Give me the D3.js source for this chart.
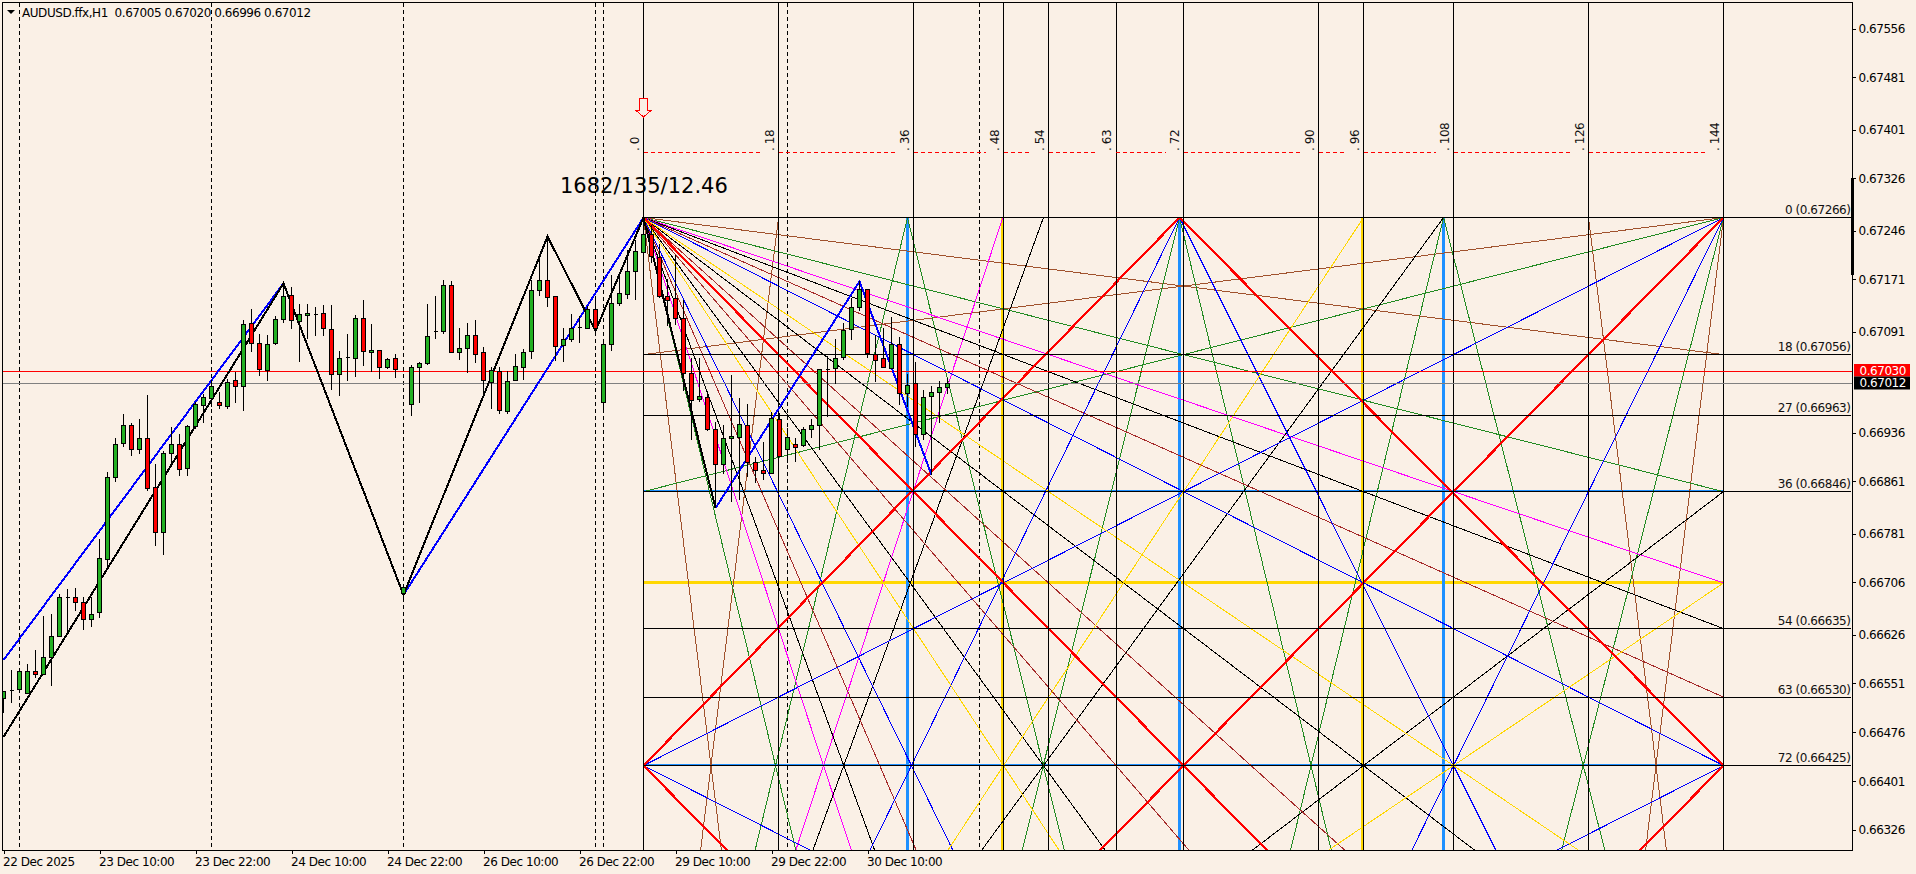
<!DOCTYPE html>
<html><head><meta charset="utf-8">
<script src="https://cdn.jsdelivr.net/npm/d3@7/dist/d3.min.js"></script>
<style>
html,body{margin:0;padding:0;background:#FAF0E6;overflow:hidden}
svg{display:block}
text{font-family:"DejaVu Sans",sans-serif;font-size:12px;letter-spacing:-0.45px;fill:#000}
</style></head><body>
<script>
const open=[0.66528,0.66541,0.66542,0.66535,0.66570,0.66565,0.66591,0.66623,0.66683,0.66683,0.66675,0.66649,0.66660,0.66741,0.66867,0.66919,0.66947,0.66910,0.66927,0.66852,0.66783,0.66904,0.66918,0.66881,0.66945,0.66978,0.66988,0.66982,0.66976,0.67016,
0.67007,0.67103,0.67073,0.67031,0.67072,0.67110,0.67146,0.67107,0.67116,0.67118,0.67119,0.67094,0.67025,0.67051,0.67050,0.67111,0.67059,0.67062,0.67036,0.67050,
0.66689,0.66979,0.67036,0.67042,0.67091,0.67091,0.67162,0.67059,0.67065,0.67085,0.67059,0.67013,0.67030,0.66969,0.67016,0.67036,0.67061,0.67154,0.67170,0.67145,
0.67069,0.67079,0.67097,0.67096,0.67125,0.66982,0.67071,0.67134,0.67148,0.67184,0.67213,0.67240,0.67205,0.67145,0.67142,0.67111,0.67026,0.66987,0.66990,0.66941,
0.66887,0.66927,0.66929,0.66947,0.66890,0.66878,0.66873,0.66956,0.66910,0.66918,0.66916,0.66941,0.66947,0.67033,0.67035,0.67052,0.67094,0.67128,0.67156,0.67056,
0.67050,0.67035,0.67071,0.66996,0.67012,0.66933,0.66991,0.66998,0.67005];
const high=[0.66539,0.66571,0.66571,0.66581,0.66602,0.66654,0.66657,0.66689,0.66696,0.66697,0.66683,0.66684,0.66773,0.66875,0.66927,0.66965,0.66950,0.66957,0.66994,0.66888,0.66908,0.66945,0.66934,0.66947,0.66983,0.66996,0.67016,0.66998,0.67019,0.67029,
0.67109,0.67126,0.67088,0.67086,0.67115,0.67165,0.67159,0.67133,0.67133,0.67128,0.67132,0.67132,0.67062,0.67087,0.67117,0.67140,0.67102,0.67062,0.67051,0.67056,
0.66700,0.67040,0.67044,0.67133,0.67146,0.67170,0.67169,0.67096,0.67104,0.67109,0.67067,0.67036,0.67036,0.67030,0.67057,0.67064,0.67170,0.67209,0.67237,0.67145,
0.67097,0.67118,0.67115,0.67130,0.67146,0.67077,0.67178,0.67176,0.67216,0.67231,0.67265,0.67255,0.67226,0.67171,0.67209,0.67140,0.67050,0.67050,0.66996,0.66953,
0.66948,0.67024,0.66989,0.66980,0.66899,0.66922,0.66968,0.66966,0.66943,0.66927,0.66945,0.66957,0.67033,0.67053,0.67079,0.67104,0.67142,0.67168,0.67157,0.67086,
0.67096,0.67113,0.67082,0.67026,0.67044,0.67002,0.67008,0.67015,0.67020];
const low=[0.66506,0.66521,0.66541,0.66535,0.66560,0.66565,0.66547,0.66623,0.66630,0.66662,0.66633,0.66638,0.66652,0.66730,0.66860,0.66914,0.66900,0.66903,0.66847,0.66762,0.66748,0.66887,0.66869,0.66869,0.66942,0.66951,0.66976,0.66972,0.66972,0.66981,
0.66969,0.67060,0.67023,0.67015,0.67070,0.67104,0.67095,0.67045,0.67080,0.67084,0.67085,0.67001,0.66992,0.67015,0.67022,0.67038,0.67029,0.67019,0.67033,0.67020,
0.66687,0.66962,0.66982,0.67040,0.67079,0.67087,0.67059,0.67047,0.67028,0.67043,0.66991,0.66972,0.66964,0.66964,0.67016,0.67016,0.67049,0.67145,0.67128,0.67046,
0.67045,0.67075,0.67074,0.67096,0.67092,0.66967,0.67061,0.67130,0.67141,0.67140,0.67206,0.67196,0.67142,0.67099,0.67101,0.67000,0.66924,0.66983,0.66939,0.66820,
0.66873,0.66830,0.66832,0.66868,0.66858,0.66863,0.66873,0.66900,0.66889,0.66891,0.66914,0.66927,0.66910,0.66960,0.67010,0.67047,0.67078,0.67122,0.67051,0.67014,
0.67035,0.67035,0.66979,0.66976,0.66914,0.66925,0.66871,0.66950,0.66996];
const close=[0.66539,0.66541,0.66570,0.66570,0.66565,0.66591,0.66623,0.66683,0.66683,0.66675,0.66649,0.66657,0.66743,0.66867,0.66918,0.66947,0.66910,0.66927,0.66850,0.66783,0.66904,0.66918,0.66879,0.66945,0.66979,0.66990,0.67007,0.66977,0.67013,0.67007,
0.67102,0.67073,0.67033,0.67071,0.67110,0.67145,0.67108,0.67117,0.67119,0.67118,0.67096,0.67025,0.67049,0.67051,0.67111,0.67060,0.67062,0.67036,0.67048,0.67033,
0.66698,0.67036,0.67042,0.67084,0.67091,0.67162,0.67059,0.67065,0.67085,0.67056,0.67016,0.67032,0.66970,0.67015,0.67038,0.67059,0.67154,0.67170,0.67144,0.67068,
0.67079,0.67096,0.67097,0.67125,0.67096,0.67071,0.67134,0.67150,0.67184,0.67214,0.67240,0.67206,0.67145,0.67139,0.67111,0.67026,0.66986,0.66991,0.66941,0.66887,
0.66927,0.66930,0.66949,0.66890,0.66878,0.66873,0.66958,0.66900,0.66929,0.66913,0.66941,0.66947,0.67033,0.67033,0.67050,0.67093,0.67128,0.67156,0.67058,0.67047,
0.67036,0.67071,0.66996,0.67009,0.66933,0.66990,0.66998,0.67005,0.67012];

const priceTicks=[0.67556,0.67481,0.67401,0.67326,0.67246,0.67171,0.67091,0.66936,0.66861,0.66781,0.66706,0.66626,0.66551,0.66476,0.66401,0.66326];
const dateBars=[0,12,24,36,48,60,72,84,96,108];
const dateLabels=["22 Dec 2025","23 Dec 10:00","23 Dec 22:00","24 Dec 10:00","24 Dec 22:00","26 Dec 10:00","26 Dec 22:00","29 Dec 10:00","29 Dec 22:00","30 Dec 10:00"];
const dashedBars=[2,26,50,74,75,98,122];
const gridCols=[0,18,36,48,54,63,72,90,96,108,126,144];
const levelNames=[0,18,27,36,54,63,72];
const levelPrices=[0.67266,0.67056,0.66963,0.66846,0.66635,0.66530,0.66425];
const yellowLevel=0.66706, blueLevels=[0.66846,0.66425];
const thickBlueBars=[113,147,180], thickYellowBars=[125,170];
const askPrice=0.67030, bidPrice=0.67012;
const originBar=80, spanBars=135, spanUnits=144, depthUnits=72;
// zigzags as [bar, price]
const blackZig=[[0,0.66469],[35,0.67165],[50,0.66687],[68,0.67237],[74,0.67092],[80,0.67266],[89,0.66820]];
const blueZig1=[[0,0.66587],[35,0.67165]];
const blueZig2=[[50,0.66687],[80,0.67266]];
const blueZig3=[[89,0.66820],[107,0.67168],[116,0.66871]];
// rays: [top column, column reached, depth reached]
const raysBrown=[[0,9,72],[18,9,72],[126,135,72],[144,135,72],[0,144,18],[144,0,18]];
const raysGreen=[[0,17.6,72],[35.2,17.6,72],[35.2,53.3,72],[71.47,53.3,72],[71.47,89,72],[106.67,89,72],[106.67,125.3,72],[144,125.3,72],[0,144,36],[144,0,36]];
const raysMagenta=[[0,24,72],[47.9,24,72],[0,144,48]];
const raysBlack=[[0,26.7,72],[53.33,26.7,72],[0,53.33,72],[106.67,53.33,72],[0,96,72],[192,96,72],[0,144,54]];
const raysDark=[[0,31.5,72],[0,63,72],[0,81,72],[0,144,63]];
const raysBlue=[[0,35.73,72],[71.47,35.73,72],[71.47,108,72],[144,108,72],[0,144,72],[144,0,72],[-144,0,72],[288,144,72]];
const raysYellow=[[0,48,72],[96,48,72],[0,108,72],[216,108,72]];
const raysRed=[[0,72,72],[71.47,0,72],[71.47,144,72],[144,72,72],[-72,0,72],[216,144,72]];

const W=1916,H=874,L=2.5,R=1852.5,T=2.5,B=850.5;
const svg=d3.select("body").append("svg").attr("width",W).attr("height",H);
svg.append("rect").attr("width",W).attr("height",H).attr("fill","#FAF0E6");
svg.append("defs").append("clipPath").attr("id","plot").append("rect").attr("x",3).attr("y",3).attr("width",R-3).attr("height",B-3);

const x=d3.scaleLinear().domain([0,118]).range([3.5,947.5]);
const y=d3.scaleLinear().domain([0.67556,0.66326]).range([28.6,830.1]);
const col=d3.scaleLinear().domain([0,spanUnits]).range([x(originBar),x(originBar+spanBars)]);
const depth=d3.scaleLinear().domain([0,depthUnits]).range([y(levelPrices[0]),y(levelPrices[6])]);
const px=v=>Math.floor(v)+0.5;

const g=svg.append("g").attr("clip-path","url(#plot)").style("shape-rendering","crispEdges");

function vline(xp,y0,y1,c,w,dash){const l=g.append("line").attr("x1",xp).attr("x2",xp).attr("y1",y0).attr("y2",y1).attr("stroke",c).attr("stroke-width",w);if(dash)l.attr("stroke-dasharray",dash);return l;}
function hline(yp,x0,x1,c,w,dash){const l=g.append("line").attr("y1",yp).attr("y2",yp).attr("x1",x0).attr("x2",x1).attr("stroke",c).attr("stroke-width",w);if(dash)l.attr("stroke-dasharray",dash);return l;}

dashedBars.forEach(b=>vline(x(b)-0.2,T,B,"#000",1,"4 3"));

// thick guide lines
hline(y(yellowLevel),x(originBar),col(144),"#FFD700",2.4);
blueLevels.forEach(p=>hline(px(y(p))-1,x(originBar),col(144),"#1E90FF",1));
thickBlueBars.forEach(b=>vline(x(b),depth(0),B,"#1E90FF",3));
thickYellowBars.forEach(b=>vline(x(b)-1,depth(0),B,"#FFD700",3));

// fans
function clipRay(r){
  const [x0,x1,u1]=r, s=(x1-x0)/u1;
  let ua=0,ub=90;
  if(s>0){ub=Math.min(ub,(144-x0)/s);ua=Math.max(ua,(0-x0)/s);}
  else{ub=Math.min(ub,(0-x0)/s);ua=Math.max(ua,(144-x0)/s);}
  return [[x0+s*ua,ua],[x0+s*ub,ub]];
}
function drawRays(set,c,w){
  g.append("g").selectAll("line").data(set).join("line").each(function(r){
    const [a,b]=clipRay(r);
    d3.select(this).attr("x1",col(a[0])).attr("y1",depth(a[1])).attr("x2",col(b[0])).attr("y2",depth(b[1]));
  }).attr("stroke",c).attr("stroke-width",w);
}
drawRays(raysBrown,"#A0522D",1);
drawRays(raysGreen,"#228B22",1);
drawRays(raysMagenta,"#FF00FF",1);
drawRays(raysBlack,"#000",1);
drawRays(raysDark,"#A52A2A",1);
drawRays(raysBlue,"#0000FF",1);
drawRays(raysYellow,"#FFD700",1);
drawRays(raysRed,"#FF0000",2.2);

// box grid
gridCols.forEach(v=>vline(px(col(v)),T,B,"#000",1));
levelPrices.forEach(p=>hline(px(y(p)),x(originBar),R-1.5,"#000",1));

// price lines
hline(px(y(askPrice)),L,R,"#FF0000",1);
hline(px(y(bidPrice)),L,R,"#808080",1.2);

// zigzags
const zig=d3.line().x(d=>x(d[0])).y(d=>y(d[1]));
[blueZig1,blueZig2,blueZig3].forEach(z=>g.append("path").attr("d",zig(z)).attr("fill","none").attr("stroke","#0000FF").attr("stroke-width",2));
g.append("path").attr("d",zig(blackZig)).attr("fill","none").attr("stroke","#000").attr("stroke-width",2);

// dashed red time line with label gaps
let prev=col(0);
gridCols.forEach((v,i)=>{ if(i==0)return; const xe=col(v)-18; hline(152.5,prev,xe,"#FF0000",1,"4 3"); prev=col(v); });

// candles
const cg=g.append("g");
const rows=d3.range(open.length).map(i=>({i,o:open[i],h:high[i],l:low[i],c:close[i]}));
cg.selectAll("line").data(rows).join("line")
  .attr("x1",d=>x(d.i)).attr("x2",d=>x(d.i))
  .attr("y1",d=>y(d.h)).attr("y2",d=>y(d.l)).attr("stroke","#000").attr("stroke-width",1);
cg.selectAll("path").data(rows).join("path")
  .attr("d",d=>{const t=px(y(Math.max(d.o,d.c))),b=px(y(Math.min(d.o,d.c))),c=x(d.i);return `M${c-2},${t}H${c+2}V${b}H${c-2}Z`;})
  .attr("fill",d=>d.c>=d.o?"#22B022":"#FF0000").attr("stroke","#000").attr("stroke-width",1);

// border
const frame=svg.append("g").style("shape-rendering","crispEdges");
frame.append("path").attr("d",`M${L},${T}H${R}V${B}H${L}Z`).attr("fill","none").attr("stroke","#000").attr("stroke-width",1);
frame.append("rect").attr("x",1851).attr("y",178).attr("width",2.5).attr("height",97).attr("fill","#000");

// axes
const yAxis=d3.axisRight(y).tickValues(priceTicks).tickSize(3).tickPadding(3).tickFormat(d3.format(".5f"));
const ax=svg.append("g").attr("transform",`translate(${R},0)`).call(yAxis);
ax.select(".domain").remove();
ax.selectAll("line").attr("stroke","#000").style("shape-rendering","crispEdges");
const xAxis=d3.axisBottom(x).tickValues(dateBars).tickSize(3).tickPadding(4).tickFormat((d,i)=>dateLabels[i]);
const bx=svg.append("g").attr("transform",`translate(0,${B})`).call(xAxis);
bx.select(".domain").remove();
bx.selectAll("line").attr("stroke","#000").style("shape-rendering","crispEdges");
bx.selectAll("text").attr("text-anchor","start").attr("x",-1);
// d3 sets font on the axis group: let the stylesheet rule apply
ax.attr("font-family",null).attr("font-size",null);
bx.attr("font-family",null).attr("font-size",null);

// price badges
[[askPrice,"#FF0000",364,12.5],[bidPrice,"#000",376.5,13]].forEach(([p,c,top,h])=>{
  svg.append("rect").attr("x",1854).attr("y",top).attr("width",56).attr("height",h).attr("fill",c);
  svg.append("text").attr("x",R+7).attr("y",y(p)+4).style("fill","#fff").text(d3.format(".5f")(p));
});

// level labels
levelPrices.forEach((p,i)=>svg.append("text").attr("x",1850.5).attr("y",px(y(p))-3.5).attr("text-anchor","end").style("fill","#111").text(`${levelNames[i]} (${d3.format(".5f")(p)})`));

// count labels
gridCols.forEach(v=>{
  svg.append("text").attr("transform",`translate(${col(v)-5},151) rotate(-90)`).style("fill","#111").style("white-space","pre").text(". "+v);
});

// arrow
const ax0=x(originBar),ay0=98;
svg.append("path").attr("d",d3.line()([[ax0-4,ay0],[ax0+4,ay0],[ax0+4,ay0+12],[ax0+8,ay0+12],[ax0,ay0+19],[ax0-8,ay0+12],[ax0-4,ay0+12]])+"Z")
  .attr("fill","#FAF0E6").attr("stroke","#FF0000").attr("stroke-width",1).style("shape-rendering","crispEdges");

// big label
svg.append("text").attr("x",560).attr("y",193).style("font-size","21px").style("letter-spacing","0").text("1682/135/12.46");

// header
svg.append("path").attr("d",d3.line()([[7,10],[15,10],[11,14]])+"Z").attr("fill","#000");
svg.append("text").attr("x",22).attr("y",17).style("fill","#000").style("white-space","pre").text("AUDUSD.ffx,H1  0.67005 0.67020 0.66996 0.67012");
</script>
</body></html>
